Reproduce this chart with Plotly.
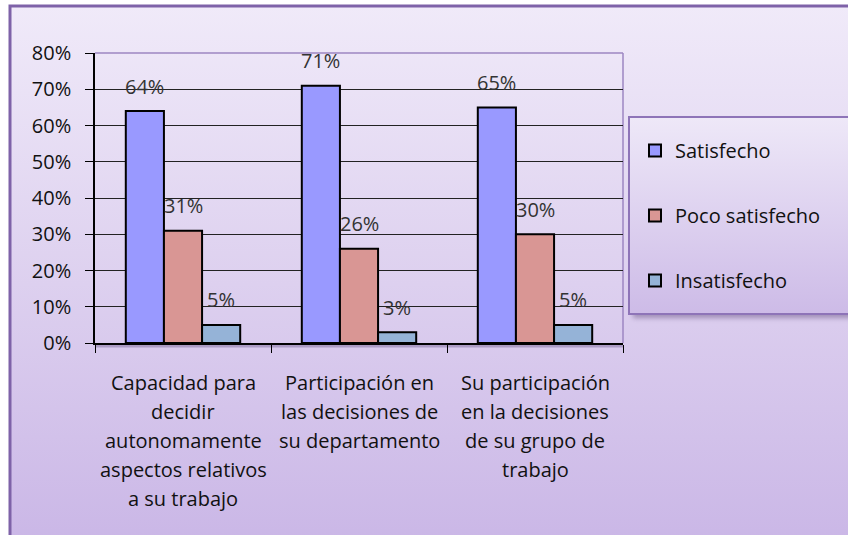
import base64
import plotly.graph_objects as go

# ---------------- data ----------------
categories = ["cat1", "cat2", "cat3"]
category_lines = [
    ["Capacidad para", "decidir", "autonomamente", "aspectos relativos", "a su trabajo"],
    ["Participación en", "las decisiones de", "su departamento"],
    ["Su participación", "en la decisiones", "de su grupo de", "trabajo"],
]
series_names = ["Satisfecho", "Poco satisfecho", "Insatisfecho"]
satisfecho = [64, 71, 65]
poco_satisfecho = [31, 26, 30]
insatisfecho = [5, 3, 5]
series_values = [satisfecho, poco_satisfecho, insatisfecho]
series_colors = ["#9999FF", "#D99694", "#95B3D7"]
y_ticks = [0, 10, 20, 30, 40, 50, 60, 70, 80]
y_tick_labels = [f"{v}%" for v in y_ticks]

# ---------------- layout geometry (pixels) ----------------
W, H = 848, 535
L, R, T, B = 95, 623, 53, 343
pw, ph = R - L, B - T
FONT = "Open Sans"
FS = 20
BARGAP = 0.35

def px_x(p):
    return (p - L) / pw

def px_y(p):
    return (B - p) / ph

# background svg (frame + gradient + legend box with shadow)
svg = f'''<svg xmlns="http://www.w3.org/2000/svg" width="{W}" height="{H}" viewBox="0 0 {W} {H}">
<defs>
<linearGradient id="g" x1="0" y1="0" x2="0" y2="1">
<stop offset="0" stop-color="#F0EAF9"/>
<stop offset="0.5" stop-color="#DDD0EF"/>
<stop offset="1" stop-color="#C9B5E6"/>
</linearGradient>
<linearGradient id="lg" x1="0" y1="0" x2="0" y2="1">
<stop offset="0" stop-color="#EEE8F8"/>
<stop offset="1" stop-color="#CDBBE7"/>
</linearGradient>
<filter id="sh" x="-10%" y="-10%" width="130%" height="130%">
<feGaussianBlur stdDeviation="2.5"/>
</filter>
</defs>
<rect x="0" y="0" width="{W}" height="{H}" fill="#FFFFFF"/>
<rect x="10" y="6" width="{W+20}" height="{H+20}" fill="url(#g)" stroke="#7E62A8" stroke-width="3"/>
<rect x="633" y="121" width="230" height="197" fill="#6E5A88" opacity="0.55" filter="url(#sh)"/>
<rect x="629" y="117" width="230" height="197" fill="url(#lg)" stroke="#8E74B8" stroke-width="2"/>
</svg>'''
svg_uri = "data:image/svg+xml;base64," + base64.b64encode(svg.encode()).decode()

fig = go.Figure()

for name, vals, col in zip(series_names, series_values, series_colors):
    fig.add_trace(go.Bar(
        name=name, x=categories, y=vals,
        marker=dict(color=col, line=dict(color="#000000", width=2)),
        legendgroup=name, hoverinfo="skip",
    ))

# data labels above each bar
n = len(series_names)
bw = (1 - BARGAP) / n
annotations = []
for i, vals in enumerate(series_values):
    off = (i - (n - 1) / 2) * bw
    for j, v in enumerate(vals):
        annotations.append(dict(
            x=j + off, y=v, xref="x", yref="y", text=f"{v}%",
            showarrow=False, yanchor="middle", yshift=25,
            font=dict(family=FONT, size=FS, color="#333333"),
        ))

# multi-line category labels
for j, lines in enumerate(category_lines):
    for k, line in enumerate(lines):
        annotations.append(dict(
            x=j, y=0, xref="x", yref="paper", text=line,
            showarrow=False, yanchor="middle", yshift=-39 - 29 * k,
            font=dict(family=FONT, size=FS, color="#111111"),
        ))

fig.update_layout(
    width=W, height=H,
    margin=dict(l=L, r=W - R, t=T, b=H - B, pad=0),
    paper_bgcolor="#FFFFFF",
    plot_bgcolor="rgba(0,0,0,0)",
    barmode="group", bargap=BARGAP, bargroupgap=0,
    font=dict(family=FONT, size=FS, color="#111111"),
    showlegend=True,
    legend=dict(
        x=px_x(635), y=px_y(131), xanchor="left", yanchor="top",
        bgcolor="rgba(0,0,0,0)", borderwidth=0,
        tracegroupgap=36, traceorder="grouped",
        font=dict(family=FONT, size=FS, color="#111111"),
    ),
    images=[dict(
        source=svg_uri, xref="paper", yref="paper",
        x=px_x(0), y=px_y(0), sizex=W / pw, sizey=H / ph,
        xanchor="left", yanchor="top", sizing="stretch", layer="below",
    )],
    shapes=[
        dict(type="line", xref="paper", yref="paper", x0=1, x1=1, y0=0, y1=1,
             line=dict(color="#9C86C2", width=1.5), layer="below"),
        dict(type="line", xref="paper", yref="paper", x0=0, x1=1, y0=1, y1=1,
             line=dict(color="#9C86C2", width=1.5), layer="above"),
        dict(type="line", xref="paper", yref="paper", x0=0, x1=1,
             y0=px_y(B + 3), y1=px_y(B + 3),
             line=dict(color="rgba(90,70,120,0.35)", width=3), layer="below"),
    ],
    annotations=annotations,
    xaxis=dict(
        type="category", range=[-0.5, 2.5],
        showticklabels=False, showgrid=False, zeroline=False,
        showline=True, linecolor="#000000", linewidth=1.5,
        ticks="outside", tickson="boundaries", ticklen=8,
        tickcolor="#000000", tickwidth=1,
    ),
    yaxis=dict(
        range=[0, 80], tickmode="array", tickvals=y_ticks, ticktext=y_tick_labels,
        showgrid=True, gridcolor="#222222", gridwidth=1,
        zeroline=False, showline=True, linecolor="#000000", linewidth=1.5,
        ticks="outside", ticklen=8, tickcolor="#000000",
        ticklabelstandoff=10,
        tickfont=dict(family=FONT, size=FS, color="#111111"),
    ),
)

fig.write_html(
    "out.html",
    config={"displayModeBar": False},
    post_script="document.body.style.margin='0';document.body.style.overflow='hidden';",
)
